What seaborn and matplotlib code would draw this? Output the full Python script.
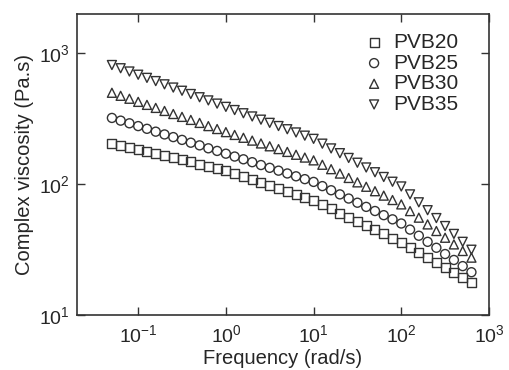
import numpy as np
import pandas as pd
import seaborn as sns
import matplotlib
matplotlib.use('Agg')
import matplotlib.pyplot as plt
from matplotlib.ticker import LogLocator, NullLocator

# frequencies (rad/s)
freq = [0.05, 0.0629, 0.0792, 0.0997, 0.1255, 0.158, 0.199, 0.2505, 0.315, 0.397,
        0.5, 0.629, 0.792, 0.997, 1.255, 1.58, 1.99, 2.505, 3.15, 3.97,
        5.0, 6.29, 7.92, 9.97, 12.55, 15.8, 19.9, 25.05, 31.5, 39.7,
        50.0, 62.9, 79.2, 99.7, 125.5, 158.0, 199.0, 250.5, 315.0, 397.0,
        500.0, 629.0]

pvb20 = [206, 199, 191, 185, 177, 171, 165, 159, 153, 148, 142, 137, 132, 127,
         120.5, 114, 108, 103, 97.7, 92.7, 87.9, 83.4, 79.1, 75,
         69.7, 64.7, 60.1, 55.8, 51.9, 48.3, 44.9, 41.7, 38.7, 36.0,
         32.9, 30.1, 27.5, 25.2, 23.0, 21.0, 19.3, 17.6]
pvb25 = [321, 306, 292, 278, 265, 252, 240, 229, 218, 207.5, 198, 188, 179.5, 171,
         162.6, 154.9, 147.2, 140, 133.3, 126.8, 120.7, 114.8, 109.2, 104,
         96.6, 89.8, 83.5, 77.6, 72.1, 67.0, 62.3, 57.9, 53.8, 50,
         44.9, 40.3, 36.2, 32.6, 29.2, 26.3, 23.6, 21.2]
pvb30 = [500, 474, 450, 426, 404, 383, 363, 344, 327, 310, 294, 278, 264, 250,
         237.9, 226.3, 215.3, 204.8, 194.8, 185.4, 176.4, 167.8, 159.7, 152,
         140.7, 130.2, 120.5, 111.5, 103.2, 95.5, 88.3, 81.7, 75.6, 70,
         62.2, 55.4, 49.2, 43.8, 38.9, 34.6, 30.8, 27.4]
pvb35 = [815, 770, 727, 687, 650, 614, 580, 548, 518, 489, 462, 437, 413, 390,
         368.7, 348.5, 329.4, 311.3, 294.3, 278.2, 263, 248.5, 234.9, 222,
         204, 187.6, 172.5, 158.6, 145.8, 134.1, 123.3, 113.4, 104.3, 96,
         83.5, 72.6, 63.2, 55.0, 47.8, 41.6, 36.2, 31.5]

samples = ['PVB20', 'PVB25', 'PVB30', 'PVB35']
markers = {'PVB20': 's', 'PVB25': 'o', 'PVB30': '^', 'PVB35': 'v'}

df = pd.DataFrame({
    'freq': freq * 4,
    'eta': pvb20 + pvb25 + pvb30 + pvb35,
    'sample': np.repeat(samples, len(freq)),
})

sns.set_style('ticks')
plt.rcParams['font.family'] = ['Liberation Sans', 'DejaVu Sans']
plt.rcParams['mathtext.fontset'] = 'custom'
plt.rcParams['mathtext.rm'] = 'Liberation Sans'
plt.rcParams['mathtext.it'] = 'Liberation Sans'

ink = '#333333'
fig = plt.figure(figsize=(5.1, 3.7), dpi=100)
ax = fig.add_axes([0.151, 0.149, 0.808, 0.813])

for s in samples:
    sub = df[df['sample'] == s]
    sns.scatterplot(data=sub, x='freq', y='eta', marker=markers[s], s=42,
                    facecolors='none', edgecolor=ink, linewidth=1.0,
                    label=s, ax=ax)

ax.set_xscale('log')
ax.set_yscale('log')
ax.set_xlim(0.02, 1000)
ax.set_ylim(10, 2000)
ax.xaxis.set_major_locator(LogLocator(base=10, numticks=10))
ax.yaxis.set_major_locator(LogLocator(base=10, numticks=10))
ax.xaxis.set_minor_locator(NullLocator())
ax.yaxis.set_minor_locator(NullLocator())
ax.tick_params(direction='in', top=True, right=True, length=6, width=1,
               color=ink, labelsize=14)
ax.tick_params(axis='x', pad=7)
ax.tick_params(axis='y', pad=5)
for sp in ax.spines.values():
    sp.set_color(ink)
    sp.set_linewidth(1.2)

ax.set_xlabel('Frequency (rad/s)', fontsize=14.5, labelpad=2)
ax.set_ylabel('Complex viscosity (Pa.s)', fontsize=14.5, labelpad=4)

ax.legend(loc='upper right', frameon=False, fontsize=15, handletextpad=0.3,
          labelspacing=0.08, borderaxespad=0.0, handlelength=1.2,
          bbox_to_anchor=(0.945, 0.965))

fig.savefig('out.png', dpi=100)
